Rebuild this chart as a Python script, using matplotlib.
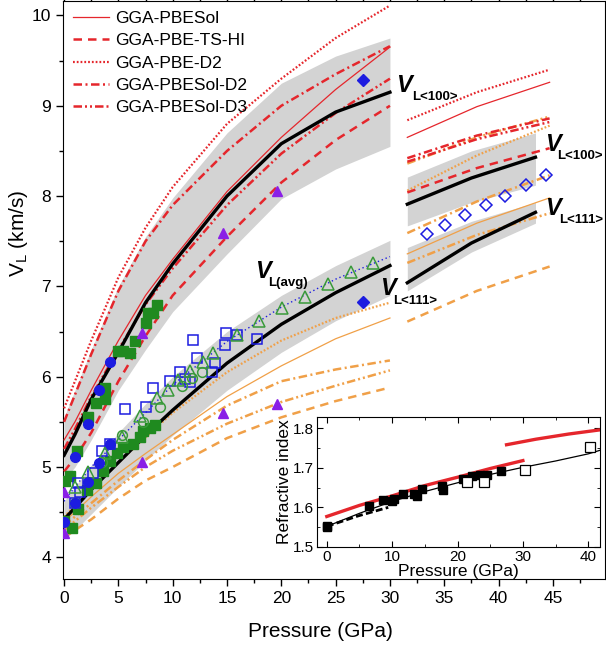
import matplotlib.pyplot as plt
from matplotlib.ticker import MultipleLocator

plt.rcParams['font.family'] = ['Liberation Sans', 'DejaVu Sans']

# ---------------- data ----------------
# left block, 0-30 GPa
p_left = [0, 1, 2.5, 5, 7.5, 10, 15, 20, 25, 30]
black_100 = [5.13, 5.36, 5.75, 6.27, 6.82, 7.25, 8.0, 8.58, 8.93, 9.15]
band_100_top = [5.55, 5.85, 6.3, 7.0, 7.55, 7.98, 8.7, 9.25, 9.55, 9.75]
band_100_bot = [4.85, 5.0, 5.3, 5.85, 6.3, 6.72, 7.36, 7.97, 8.3, 8.55]
pbesol = [5.3, 5.5, 5.85, 6.4, 6.9, 7.3, 8.05, 8.65, 9.18, 9.65]
pbe_ts_hi = [4.95, 5.1, 5.38, 5.95, 6.45, 6.9, 7.55, 8.15, 8.62, 9.0]
pbe_d2 = [5.65, 5.95, 6.4, 7.1, 7.65, 8.1, 8.8, 9.3, 9.75, 10.11]
pbesol_d2 = [5.5, 5.8, 6.25, 6.95, 7.5, 7.9, 8.5, 9.0, 9.35, 9.66]
pbesol_d3 = [5.2, 5.42, 5.78, 6.3, 6.8, 7.2, 7.9, 8.47, 8.92, 9.3]

black_avg = [4.42, 4.55, 4.75, 5.05, 5.35, 5.63, 6.15, 6.58, 6.93, 7.23]
band_avg_top = [4.62, 4.78, 5.02, 5.38, 5.7, 6.0, 6.5, 6.9, 7.23, 7.51]
band_avg_bot = [4.2, 4.3, 4.48, 4.78, 5.07, 5.35, 5.85, 6.27, 6.62, 6.9]
avg_fit = [4.62, 4.78, 5.0, 5.3, 5.6, 5.91, 6.39, 6.77, 7.08, 7.33]
o111_solid = [4.4, 4.5, 4.67, 4.93, 5.15, 5.36, 5.78, 6.12, 6.42, 6.65]
o111_dash = [4.22, 4.3, 4.42, 4.65, 4.85, 5.0, 5.32, 5.55, 5.73, 5.88]
o111_dot = [4.45, 4.57, 4.75, 5.05, 5.33, 5.6, 6.05, 6.4, 6.65, 6.82]
o111_dashdot = [4.35, 4.45, 4.6, 4.85, 5.08, 5.3, 5.68, 5.95, 6.08, 6.18]
o111_dashdotdot = [4.3, 4.4, 4.55, 4.78, 5.0, 5.18, 5.48, 5.72, 5.9, 6.07]

# right block, above 30 GPa
p_right = [31.6, 38.0, 44.7]
p_right_band = [31.6, 37.5, 43.4]
r_pbe_d2 = [8.84, 9.15, 9.40]
r_pbesol = [8.65, 8.99, 9.26]
r_pbesol_d2 = [8.42, 8.67, 8.86]
r_pbesol_d3 = [8.38, 8.63, 8.82]
r_pbe_ts_hi = [8.04, 8.31, 8.53]
r_o_dashdotdot = [8.36, 8.65, 8.88]
r_o_dot = [8.06, 8.45, 8.78]
r_o_dashdot = [7.59, 7.94, 8.23]
r_o_solid = [7.36, 7.70, 7.98]
r_o_dashdot2 = [7.26, 7.57, 7.81]
r_o_dash = [6.61, 6.95, 7.22]
r_black_100 = [7.91, 8.2, 8.43]
r_band_100_top = [8.21, 8.5, 8.70]
r_band_100_bot = [7.67, 7.93, 8.12]
r_black_111 = [7.04, 7.48, 7.82]
r_band_111_top = [7.43, 7.72, 7.93]
r_band_111_bot = [6.95, 7.38, 7.70]

# experimental points
green_sq_p = [0.1, 0.5, 1.2, 2.2, 2.9, 3.8, 3.8, 5.0, 5.4, 6.1, 6.5, 7.5, 7.7, 8.2, 8.6,
              0.0, 0.7, 1.3, 2.1, 2.9, 3.6, 4.2, 4.9, 5.4, 6.3, 7.0, 7.3, 7.9, 8.4]
green_sq_v = [4.85, 4.9, 5.18, 5.55, 5.71, 5.88, 5.75, 6.29, 6.28, 6.26, 6.40, 6.59, 6.71, 6.70, 6.79,
              4.4, 4.33, 4.54, 4.74, 4.82, 4.96, 5.07, 5.16, 5.22, 5.26, 5.33, 5.40, 5.43, 5.46]
blue_dot_p = [1.0, 2.2, 3.2, 4.2, 0.0, 1.0, 2.2, 3.2, 4.2]
blue_dot_v = [5.11, 5.48, 5.85, 6.16, 4.39, 4.6, 4.83, 5.04, 5.26]
purple_p = [0, 0, 7.2, 7.2, 14.6, 14.6, 19.6, 19.6]
purple_v = [4.72, 4.27, 6.48, 5.05, 7.59, 5.60, 8.06, 5.70]
diamond_p = [27.5, 27.5]
diamond_v = [9.28, 6.83]
open_sq_p = [1.0, 1.3, 1.5, 2.7, 3.5, 4.2, 5.6, 7.5, 8.2, 9.75, 10.7, 11.1, 11.6, 11.9,
             12.2, 13.6, 13.9, 14.8, 14.9, 15.9, 17.8]
open_sq_v = [4.6, 4.82, 4.72, 4.93, 5.18, 5.26, 5.64, 5.66, 5.88, 5.95, 6.05, 5.98, 5.94, 6.41,
             6.21, 6.05, 6.15, 6.35, 6.48, 6.46, 6.42]
tri_p = [1.0, 2.2, 3.8, 5.3, 7.0, 8.6, 9.6, 10.5, 11.6, 12.8, 13.7, 15.9, 17.9, 20.1,
         22.2, 24.3, 26.4, 28.4]
tri_v = [4.78, 4.94, 5.15, 5.33, 5.57, 5.76, 5.85, 5.96, 6.06, 6.16, 6.26, 6.46, 6.62, 6.76,
         6.88, 7.03, 7.16, 7.26]
circ_p = [1.0, 3.5, 5.3, 7.3, 8.8, 10.9, 11.8, 12.7]
circ_v = [4.6, 5.05, 5.35, 5.5, 5.66, 5.9, 5.99, 6.05]
open_dia_p = [33.4, 35.1, 36.9, 38.8, 40.6, 42.5, 44.4]
open_dia_v = [7.575, 7.68, 7.79, 7.90, 8.00, 8.12, 8.23]

# inset: refractive index
n_fit_p = [0, 5, 10, 15, 20, 25, 30, 35, 40, 42]
n_fit = [1.552, 1.585, 1.615, 1.64, 1.662, 1.683, 1.701, 1.717, 1.735, 1.745]
n_red1_p = [0, 5, 10, 15, 20, 25, 30]
n_red1 = [1.577, 1.605, 1.629, 1.655, 1.676, 1.698, 1.718]
n_red2_p = [27.5, 32, 37, 42]
n_red2 = [1.758, 1.772, 1.785, 1.796]
n_dash_p = [0, 4.7, 9.4]
n_dash = [1.552, 1.578, 1.600]
n_fill_p = [0, 0, 6.4, 8.6, 10.0, 10.3, 11.6, 13.4, 13.8, 14.6, 17.7, 17.8, 20.9, 22.2, 23.4, 24.5, 26.6]
n_fill = [1.554, 1.550, 1.603, 1.618, 1.615, 1.620, 1.634, 1.634, 1.628, 1.647, 1.655, 1.643,
          1.671, 1.680, 1.682, 1.681, 1.693]
n_open_p = [21.5, 24.1, 30.4, 40.2]
n_open = [1.664, 1.664, 1.695, 1.752]

RED = '#e5262c'
ORANGE = '#f0a048'
GRAY = '#d3d3d3'
BLUE = '#1c1ce0'
GREEN = '#1f8a1f'
LGREEN = '#3a9a3a'
PURPLE = '#8a1fe6'

DASH = (0, (3.4, 2.4))
DOT = (0, (0.8, 0.9))
DASHDOT = (0, (3.4, 1.4, 0.8, 1.4))
DASHDOTDOT = (0, (3.4, 1.2, 0.8, 1.2, 0.8, 1.2))

fig = plt.figure(figsize=(6.06, 6.45), dpi=100)
ax = fig.add_axes([63 / 606, 1 - 579 / 645, 542 / 606, 578 / 645])

# gray bands
ax.fill_between(p_left, band_100_bot, band_100_top, color=GRAY, lw=0, zorder=1)
ax.fill_between(p_left, band_avg_bot, band_avg_top, color=GRAY, lw=0, zorder=1)
ax.fill_between(p_right_band, r_band_100_bot, r_band_100_top, color=GRAY, lw=0, zorder=1)
ax.fill_between(p_right_band, r_band_111_bot, r_band_111_top, color=GRAY, lw=0, zorder=1)

# red calculations (legend)
ax.plot(p_left, pbesol, color=RED, lw=0.9, label='GGA-PBESol', zorder=3)
ax.plot(p_left, pbe_ts_hi, color=RED, lw=1.8, ls=DASH, label='GGA-PBE-TS-HI', zorder=3)
ax.plot(p_left, pbe_d2, color=RED, lw=1.6, ls=DOT, label='GGA-PBE-D2', zorder=3)
ax.plot(p_left, pbesol_d2, color=RED, lw=1.8, ls=DASHDOT, label='GGA-PBESol-D2', zorder=3)
ax.plot(p_left, pbesol_d3, color=RED, lw=1.8, ls=DASHDOTDOT, label='GGA-PBESol-D3', zorder=3)

ax.plot(p_right, r_pbesol, color=RED, lw=0.9, zorder=3)
ax.plot(p_right, r_pbe_ts_hi, color=RED, lw=1.8, ls=DASH, zorder=3)
ax.plot(p_right, r_pbe_d2, color=RED, lw=1.6, ls=DOT, zorder=3)
ax.plot(p_right, r_pbesol_d2, color=RED, lw=1.8, ls=DASHDOT, zorder=3)
ax.plot(p_right, r_pbesol_d3, color=RED, lw=1.8, ls=DASHDOTDOT, zorder=3)

# orange <111> calculations
ax.plot(p_left, o111_solid, color=ORANGE, lw=0.9, zorder=2)
ax.plot(p_left, o111_dash, color=ORANGE, lw=1.8, ls=DASH, zorder=2)
ax.plot(p_left, o111_dot, color=ORANGE, lw=1.6, ls=DOT, zorder=2)
ax.plot(p_left, o111_dashdot, color=ORANGE, lw=1.8, ls=DASHDOT, zorder=2)
ax.plot(p_left, o111_dashdotdot, color=ORANGE, lw=1.8, ls=DASHDOTDOT, zorder=2)

ax.plot(p_right, r_o_solid, color=ORANGE, lw=0.9, zorder=2)
ax.plot(p_right, r_o_dash, color=ORANGE, lw=1.8, ls=DASH, zorder=2)
ax.plot(p_right, r_o_dot, color=ORANGE, lw=1.6, ls=DOT, zorder=2)
ax.plot(p_right, r_o_dashdot, color=ORANGE, lw=1.8, ls=DASHDOT, zorder=2)
ax.plot(p_right, r_o_dashdot2, color=ORANGE, lw=1.8, ls=DASHDOTDOT, zorder=2)
ax.plot(p_right, r_o_dashdotdot, color=ORANGE, lw=1.8, ls=DASHDOTDOT, zorder=2)

# black averages
ax.plot(p_left, black_100, color='black', lw=2.4, zorder=4)
ax.plot(p_left, black_avg, color='black', lw=2.4, zorder=4)
ax.plot(p_right_band, r_black_100, color='black', lw=2.4, zorder=4)
ax.plot(p_right_band, r_black_111, color='black', lw=2.4, zorder=4)
ax.plot(p_left, avg_fit, color=BLUE, lw=1.0, ls=(0, (1, 2)), zorder=4)

# experimental markers
ax.plot(green_sq_p, green_sq_v, 's', color=GREEN, ms=6.5, zorder=5)
ax.plot(open_sq_p, open_sq_v, 's', mfc='none', mec=BLUE, mew=1.1, ms=7, zorder=5)
ax.plot(tri_p, tri_v, '^', mfc='none', mec=LGREEN, mew=1.1, ms=8, zorder=5)
ax.plot(circ_p, circ_v, 'o', mfc='none', mec=LGREEN, mew=1.1, ms=7, zorder=5)
ax.plot(blue_dot_p, blue_dot_v, 'o', color=BLUE, ms=7, zorder=6)
ax.plot(purple_p, purple_v, '^', color=PURPLE, ms=7, zorder=6)
ax.plot(diamond_p, diamond_v, 'D', color=BLUE, ms=6, zorder=6)
ax.plot(open_dia_p, open_dia_v, 'D', mfc='none', mec=BLUE, mew=1.1, ms=6.5, zorder=6)

# curve labels
def vlabel(x, y, sub, dx, dy):
    ax.text(x, y, 'V', fontsize=17, fontweight='bold', style='italic', zorder=7)
    ax.text(x + dx, y - dy, sub, fontsize=9.5, fontweight='bold', zorder=7, clip_on=False)

vlabel(30.6, 9.15, 'L<100>', 1.4, 0.09)
vlabel(17.6, 7.09, 'L(avg)', 1.2, 0.09)
vlabel(29.1, 6.90, 'L<111>', 1.2, 0.09)
vlabel(44.3, 8.50, 'L<100>', 1.1, 0.09)
vlabel(44.3, 7.79, 'L<111>', 1.3, 0.09)

ax.set_xlim(-0.1, 49.8)
ax.set_ylim(3.76, 10.16)
ax.xaxis.set_major_locator(MultipleLocator(5))
ax.xaxis.set_minor_locator(MultipleLocator(2.5))
ax.yaxis.set_major_locator(MultipleLocator(1))
ax.yaxis.set_minor_locator(MultipleLocator(0.5))
ax.tick_params(which='both', direction='out', labelsize=12.5, width=1)
ax.tick_params(which='major', length=5)
ax.tick_params(which='minor', length=3)
ax.tick_params(which='both', top=True, right=True)
ax.set_xlabel('Pressure (GPa)', fontsize=15)
ax.set_ylabel(r'V$_\mathregular{L}$ (km/s)', fontsize=15)
ax.xaxis.set_label_coords((320 - 63) / 542, -0.075)
ax.yaxis.set_label_coords(-0.06, (579 - 233) / 578)

ax.legend(loc='upper left', frameon=False, fontsize=12.5, handlelength=2.1,
          borderaxespad=0.15, labelspacing=0.42, handletextpad=0.35)

# inset
ins = fig.add_axes([317 / 606, 1 - 547 / 645, 283 / 606, 130 / 645])
ins.plot(n_fit_p, n_fit, color='black', lw=0.9)
ins.plot(n_dash_p, n_dash, color='black', lw=2, ls=(0, (2.5, 1.2)))
ins.plot(n_red1_p, n_red1, color=RED, lw=2.4)
ins.plot(n_red2_p, n_red2, color=RED, lw=2.4)
ins.plot(n_fill_p, n_fill, 's', color='black', ms=6)
ins.plot(n_open_p, n_open, 's', mfc='white', mec='black', mew=0.9, ms=6.5)
ins.set_xlim(-1.5, 41.8)
ins.set_ylim(1.5, 1.828)
ins.xaxis.set_major_locator(MultipleLocator(10))
ins.xaxis.set_minor_locator(MultipleLocator(5))
ins.yaxis.set_major_locator(MultipleLocator(0.1))
ins.yaxis.set_minor_locator(MultipleLocator(0.05))
ins.tick_params(which='both', direction='in', top=True, right=True, labelsize=11, pad=2)
ins.tick_params(which='major', length=4)
ins.tick_params(which='minor', length=2.5)
ins.set_xlabel('Pressure (GPa)', fontsize=12.5, labelpad=0)
ins.set_ylabel('Refractive index', fontsize=12.5, labelpad=1)

fig.savefig('out.png', dpi=100)
